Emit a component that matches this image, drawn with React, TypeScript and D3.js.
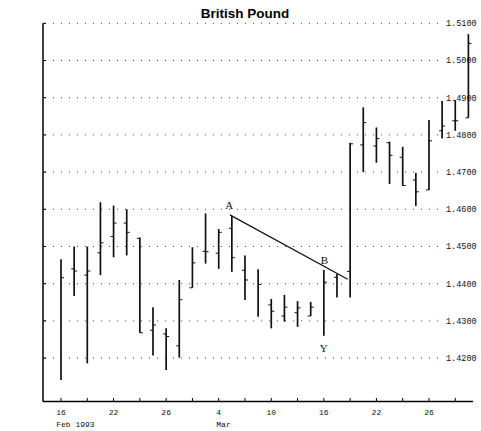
import React from "react";
import * as d3 from "d3";

const days = [16,17,18,19,22,23,24,25,26,1,2,3,4,5,8,9,10,11,12,15,16,17,18,19,22,23,24,25,26,29,30,31];
const highs = [1.4466,1.45,1.45,1.4619,1.461,1.46,1.4524,1.4337,1.428,1.441,1.4498,1.4589,1.4547,1.4582,1.4476,1.4439,1.4359,1.437,1.4353,1.4351,1.4437,1.4426,1.4779,1.4874,1.482,1.4782,1.4768,1.4698,1.484,1.4891,1.4894,1.5071];
const lows = [1.4141,1.4367,1.4186,1.4423,1.4471,1.4476,1.4268,1.4207,1.4168,1.4201,1.4389,1.4454,1.444,1.4432,1.4356,1.4311,1.428,1.4298,1.4284,1.4313,1.426,1.4363,1.4363,1.47,1.4725,1.4668,1.4663,1.4609,1.4652,1.479,1.4811,1.4846];
const opens = [null,1.444,1.4423,1.4483,1.4527,1.4563,1.4522,1.4275,1.4265,1.4233,1.4389,1.4487,1.4482,1.4549,1.4436,null,1.4343,1.4313,1.4322,1.4313,null,1.4417,1.4433,1.4773,1.477,1.4779,1.474,1.4679,1.4652,1.4811,1.4838,1.4846];
const closes = [1.4416,1.4434,1.4434,1.451,1.4563,1.4538,1.4268,1.4289,1.4258,1.4357,1.4456,1.4486,1.4538,1.447,1.441,1.4398,1.4326,1.4337,1.4335,1.4337,1.4404,null,1.4776,1.4833,1.479,1.4745,1.4664,1.4647,1.4784,1.4824,1.4838,1.5046];
const yTicks = [1.42,1.43,1.44,1.45,1.46,1.47,1.48,1.49,1.5,1.51];
const dayLabelIdx = [0,4,8,12,16,20,24,28];
const monthLabels = [{ idx: 0, text: "Feb 1993" }, { idx: 12, text: "Mar" }];
const trendLine = [{ i: 12.85, v: 1.4585 }, { i: 21.82, v: 1.4412 }];
const annotations = [
  { i: 12.8, v: 1.4612, text: "A" },
  { i: 20.05, v: 1.4463, text: "B" },
  { i: 20.0, v: 1.4226, text: "Y" },
];

export default function App() {
  const W = 481, H = 431;
  const x = d3.scaleLinear().domain([-1.37, 31.35]).range([43, 473]);
  const y = d3.scaleLinear().domain([1.40833, 1.51]).range([401.5, 23.3]);
  const line = d3.line<{ i: number; v: number }>().x(d => x(d.i)).y(d => y(d.v));
  const mono = "'Liberation Mono', 'DejaVu Sans Mono', monospace";
  const idxs = d3.range(days.length);
  const tickIdx = d3.range(0, days.length, 2);
  const charW = 4.8;
  return (
    <svg width={W} height={H} style={{ position: "absolute", left: 0, top: 0, background: "#fff" }}>
      <text x={245} y={17.5} textAnchor="middle" fontFamily="'Liberation Sans', Arial, sans-serif" fontWeight="bold" fontSize={13.5}>British Pound</text>
      {yTicks.map(t => (
        <g key={t}>
          <line x1={45} x2={441} y1={y(t)} y2={y(t)} stroke="#444" strokeWidth={1} strokeDasharray="1,7" />
          <line x1={43} x2={46} y1={y(t)} y2={y(t)} stroke="#000" strokeWidth={1} />
          <text x={446} y={y(t)} dy="0.35em" fontFamily={mono} fontSize={8.5} fill="#111">{t.toFixed(4)}</text>
        </g>
      ))}
      <line x1={43} x2={43} y1={y(1.51)} y2={401.5} stroke="#000" strokeWidth={1.5} />
      <line x1={43} x2={473} y1={401.5} y2={401.5} stroke="#000" strokeWidth={1.5} />
      {tickIdx.map(i => (
        <line key={i} x1={x(i)} x2={x(i)} y1={401.5} y2={398} stroke="#000" strokeWidth={1} />
      ))}
      {dayLabelIdx.map(i => (
        <text key={i} x={x(i)} y={415} textAnchor="middle" fontFamily={mono} fontSize={8} fill="#111">{days[i]}</text>
      ))}
      {monthLabels.map(m => (
        <text key={m.text} x={x(m.idx) - (String(days[m.idx]).length * charW) / 2} y={427} fontFamily={mono} fontSize={8} fill="#111">{m.text}</text>
      ))}
      {idxs.map(i => (
        <g key={i} stroke="#111">
          <line x1={x(i)} x2={x(i)} y1={y(highs[i])} y2={y(lows[i])} strokeWidth={1.7} />
          {opens[i] != null && <line x1={x(i) - 3} x2={x(i)} y1={y(opens[i] as number)} y2={y(opens[i] as number)} strokeWidth={1} />}
          {closes[i] != null && <line x1={x(i)} x2={x(i) + 3} y1={y(closes[i] as number)} y2={y(closes[i] as number)} strokeWidth={1} />}
        </g>
      ))}
      <path d={line(trendLine) || ""} fill="none" stroke="#111" strokeWidth={1.2} />
      {annotations.map(a => (
        <text key={a.text} x={x(a.i)} y={y(a.v)} textAnchor="middle" dy="0.35em" fontFamily="'Liberation Serif', 'DejaVu Serif', serif" fontSize={11} fill="#111">{a.text}</text>
      ))}
    </svg>
  );
}
